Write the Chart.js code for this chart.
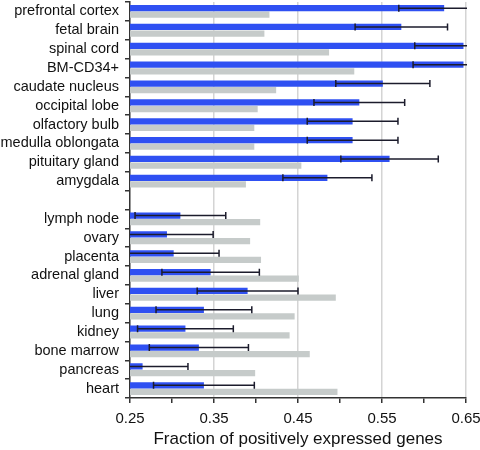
<!DOCTYPE html>
<html><head><meta charset="utf-8">
<script src="https://cdn.jsdelivr.net/npm/chart.js@4/dist/chart.umd.min.js"></script>
<style>html,body{margin:0;padding:0;background:#fff}#wrap{width:480px;height:450px;position:relative}</style>
</head><body><div id="wrap"><canvas id="c"></canvas></div>
<script>
const categories = ['prefrontal cortex','fetal brain','spinal cord','BM-CD34+','caudate nucleus','occipital lobe','olfactory bulb','medulla oblongata','pituitary gland','amygdala','',
  'lymph node','ovary','placenta','adrenal gland','liver','lung','kidney','bone marrow','pancreas','heart'];
const tissueFraction = [0.624,0.573,0.647,0.647,0.551,0.523,0.515,0.515,0.559,0.485,null,
  0.310,0.294,0.302,0.346,0.390,0.338,0.316,0.332,0.265,0.338];
const tissueError = [0.054,0.055,0.058,0.060,0.056,0.054,0.054,0.054,0.058,0.053,null,
  0.054,0.055,0.054,0.058,0.060,0.057,0.057,0.059,0.054,0.060];
const backgroundFraction = [0.416,0.410,0.487,0.517,0.424,0.402,0.398,0.398,0.454,0.388,null,
  0.405,0.393,0.406,0.451,0.495,0.446,0.440,0.464,0.399,0.497];
const xMin = 0.25, xMax = 0.65, xStep = 0.05;
const xTickLabels = ['0.25','0.35','0.45','0.55','0.65'];
const xTitle = 'Fraction of positively expressed genes';

Chart.defaults.font.family = "'Liberation Sans', Arial, sans-serif";
Chart.defaults.color = '#111';

const errorBars = {
  id: 'errorBars',
  afterDatasetsDraw(chart) {
    const meta = chart.getDatasetMeta(0);
    const xs = chart.scales.x;
    const area = chart.chartArea;
    const ctx = chart.ctx;
    ctx.save();
    ctx.beginPath();
    ctx.rect(area.left, area.top, area.right - area.left + 1, area.bottom - area.top);
    ctx.clip();
    ctx.strokeStyle = '#1c1c2c';
    ctx.lineWidth = 1.5;
    meta.data.forEach((bar, i) => {
      const v = tissueFraction[i], e = tissueError[i];
      if (v == null || e == null) return;
      const lo = xs.getPixelForValue(v - e), hi = xs.getPixelForValue(v + e);
      const y = bar.y;
      ctx.beginPath();
      ctx.moveTo(lo, y); ctx.lineTo(hi, y);
      ctx.moveTo(lo, y - 3.5); ctx.lineTo(lo, y + 3.5);
      ctx.moveTo(hi, y - 3.5); ctx.lineTo(hi, y + 3.5);
      ctx.stroke();
    });
    ctx.restore();
  }
};

const isLabeled = v => xTickLabels.includes(Number(v).toFixed(2));

new Chart(document.getElementById('c'), {
  type: 'bar',
  data: {
    labels: categories,
    datasets: [
      { data: tissueFraction, backgroundColor: '#2f50f2', categoryPercentage: 0.7, barPercentage: 0.95 },
      { data: backgroundFraction, backgroundColor: '#c6cbca', categoryPercentage: 0.7, barPercentage: 0.95 }
    ]
  },
  options: {
    indexAxis: 'y',
    responsive: true,
    maintainAspectRatio: false,
    animation: false,
    devicePixelRatio: 1,
    layout: { padding: { top: 2, right: 14, bottom: 0, left: 0 } },
    plugins: { legend: { display: false }, tooltip: { enabled: false } },
    scales: {
      x: {
        min: xMin, max: xMax,
        ticks: {
          stepSize: xStep,
          font: { size: 15 },
          color: '#111',
          padding: 7,
          maxRotation: 0,
          autoSkip: false,
          callback: v => isLabeled(v) ? Number(v).toFixed(2) : ''
        },
        grid: {
          color: c => (c.tick && isLabeled(c.tick.value) && Math.abs(c.tick.value - xMin) > 1e-6) ? '#d4d4d4' : 'rgba(0,0,0,0)',
          lineWidth: 1.5,
          tickColor: '#333',
          tickLength: 5
        },
        border: { color: '#333', width: 1.5 },
        title: { display: true, text: xTitle, font: { size: 17 }, color: '#111', padding: { top: 4, bottom: 0 } },
        afterFit: s => { s.height = 52; s.paddingLeft = 0; s.paddingRight = 0; }
      },
      y: {
        type: 'category',
        ticks: { font: { size: 14.5 }, color: '#111', padding: 6, autoSkip: false },
        grid: { drawOnChartArea: false, offset: true, tickLength: 5, tickColor: '#333', lineWidth: 1.5 },
        border: { color: '#333', width: 1.5 },
        afterFit: s => { s.width = 130; s.paddingTop = 0; s.paddingBottom = 0; }
      }
    }
  },
  plugins: [errorBars]
});
</script>
</body></html>
